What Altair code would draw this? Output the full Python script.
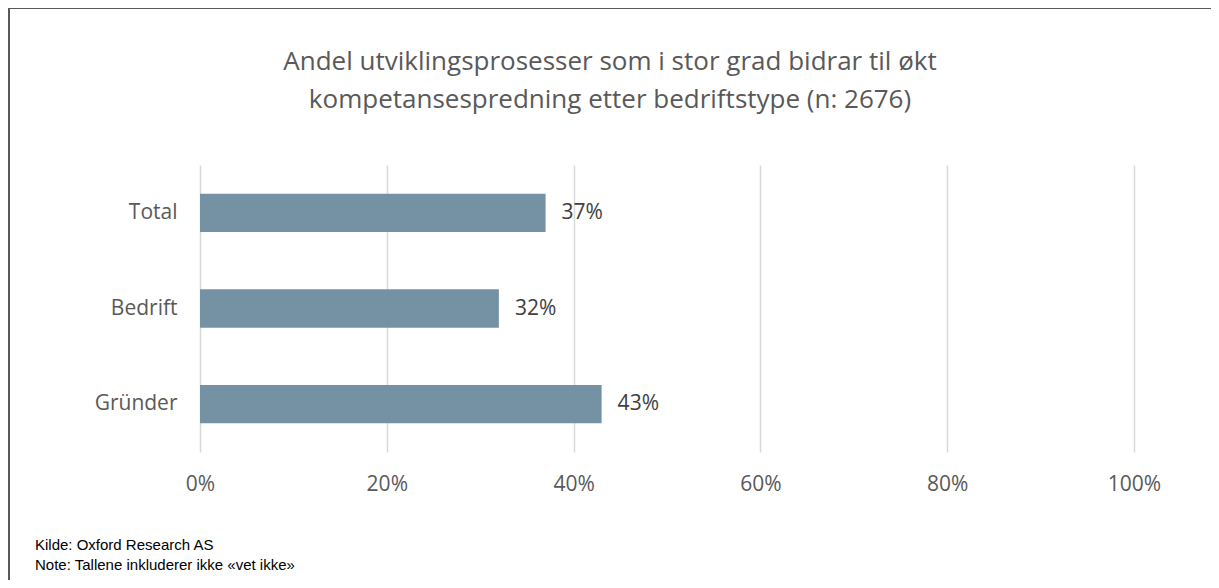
import altair as alt
import pandas as pd

categories = ["Total", "Bedrift", "Gründer"]
values = [0.37, 0.32, 0.43]
labels = ["37%", "32%", "43%"]
title_lines = ["Andel utviklingsprosesser som i stor grad bidrar til økt",
               "kompetansespredning etter bedriftstype (n: 2676)"]
notes = ["Kilde: Oxford Research AS", "Note: Tallene inkluderer ikke «vet ikke»"]

W, H = 934, 287
FONT = "Open Sans, sans-serif"

df = pd.DataFrame({"cat": categories, "val": values, "lab": labels})

y_enc = alt.Y("cat:N", sort=categories, title=None,
              scale=alt.Scale(paddingInner=0.6, paddingOuter=0.3),
              axis=alt.Axis(domain=False, ticks=False, labelPadding=23,
                            labelFontSize=21, labelColor="#595959", labelFont=FONT,
                            labelFontWeight="normal"))
x_enc = alt.X("val:Q", title=None,
              scale=alt.Scale(domain=[0, 1]),
              axis=alt.Axis(format="%", values=[0, 0.2, 0.4, 0.6, 0.8, 1.0],
                            domain=False, ticks=False, grid=True, labelFlush=False,
                            gridColor="#D9D9D9", gridWidth=1.5,
                            labelPadding=21, labelFontSize=21,
                            labelColor="#595959", labelFont=FONT))

bars = alt.Chart(df).mark_bar(color="#7592A4").encode(x=x_enc, y=y_enc)
text = alt.Chart(df).mark_text(align="left", baseline="middle", dx=16,
                               fontSize=21, color="#404040", font=FONT).encode(
    x="val:Q", y=alt.Y("cat:N", sort=categories), text="lab:N")

one = pd.DataFrame({"a": [0]})


def label_layer(txt, x, y, size, color, font, align):
    return alt.Chart(one).mark_text(align=align, baseline="middle", fontSize=size,
                                    color=color, font=font, text=txt).encode(
        x=alt.value(x), y=alt.value(y))


title1 = label_layer(title_lines[0], 410, -103, 26, "#595959", FONT, "center")
title2 = label_layer(title_lines[1], 410, -65, 26, "#595959", FONT, "center")
NFONT = "Liberation Sans, Arial, sans-serif"
note1 = label_layer(notes[0], -165, 380, 15, "#000000", NFONT, "left")
note2 = label_layer(notes[1], -165, 400, 15, "#000000", NFONT, "left")

border = alt.Chart(one).mark_rect(
    fill="transparent", stroke="#595959", strokeWidth=2).encode(
    x=alt.value(-191), x2=alt.value(1400), y=alt.value(-157), y2=alt.value(700))

chart = alt.layer(border, bars, text, title1, title2, note1, note2).properties(
    width=W, height=H,
    autosize=alt.AutoSizeParams(type="none"),
    padding={"left": 192, "top": 157, "right": 77, "bottom": 128},
).configure_view(stroke=None)

chart.save("out.html", embed_options={"renderer": "svg", "actions": False})
